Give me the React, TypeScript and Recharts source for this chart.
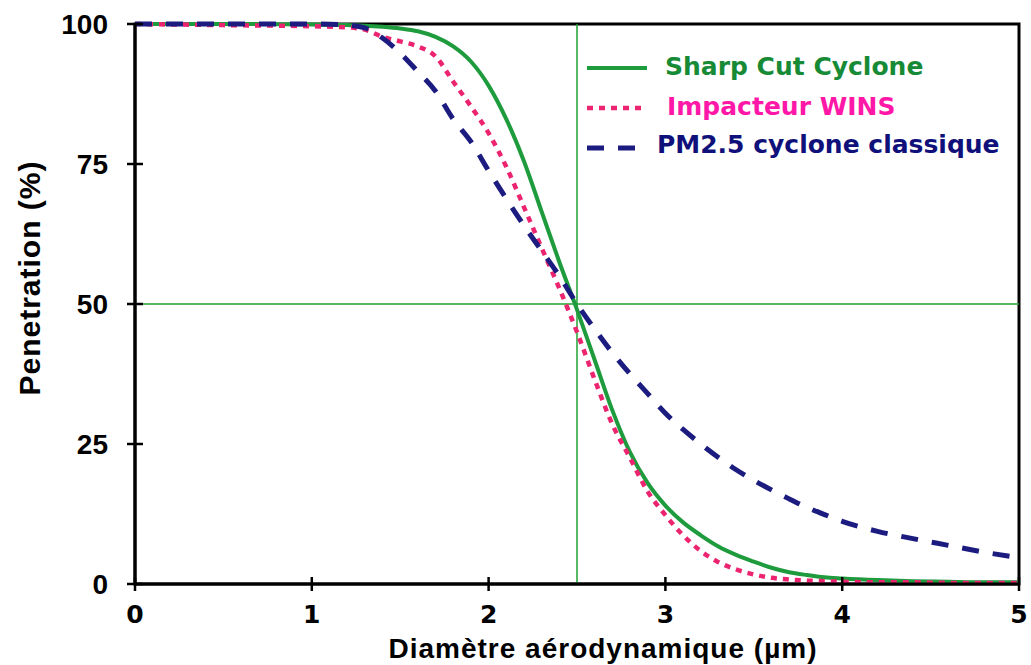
import React from 'react';
import { LineChart, Line, XAxis, YAxis, ReferenceLine, ReferenceArea, Legend, Label } from 'recharts';

const DIAMETERS = [0, 0.5, 1.0, 1.2, 1.3, 1.4, 1.5, 1.6, 1.7, 1.8, 1.9, 2.0, 2.1, 2.2, 2.3, 2.4, 2.5, 2.6, 2.7, 2.8, 2.9, 3.0, 3.1, 3.2, 3.3, 3.4, 3.5, 3.6, 3.7, 3.8, 3.9, 4.0, 4.2, 4.4, 4.6, 4.8, 5.0];
const SHARP_CUT = [100, 100, 99.9, 99.8, 99.7, 99.5, 99.2, 98.7, 97.7, 96, 93.3, 89, 83, 75.5, 66.5, 57.5, 49, 40, 31, 23.5, 18, 14, 11, 8.7, 6.7, 5.2, 4.0, 2.9, 2.1, 1.6, 1.2, 1.0, 0.7, 0.5, 0.4, 0.3, 0.3];
const WINS = [100, 99.8, 99.6, 99.4, 99, 97.7, 96.9, 96, 94.2, 89.7, 85.3, 80.5, 74.5, 67.3, 60, 52.8, 45, 36.5, 28.5, 22.5, 16.5, 12.3, 8.7, 5.9, 3.9, 2.6, 1.7, 1.1, 0.8, 0.6, 0.5, 0.4, 0.3, 0.3, 0.2, 0.2, 0.2];
const PM25 = [100, 100, 100, 99.8, 99.3, 97.5, 94.8, 91.5, 88, 83, 79, 73.8, 68.8, 64, 59.5, 55, 50, 45.5, 41.3, 37.5, 34, 30.5, 27.6, 25.0, 22.6, 20.4, 18.5, 16.8, 15.2, 13.7, 12.4, 11.2, 9.4, 8.1, 6.9, 5.7, 4.7];

const X_TICKS = [0, 1, 2, 3, 4, 5];
const Y_TICKS = [0, 25, 50, 75, 100];
const CUT_DIAMETER = 2.5;
const CUT_PENETRATION = 50;

const SERIES_NAMES = ['Sharp Cut Cyclone', 'Impacteur WINS', 'PM2.5 cyclone classique'];

const rows = DIAMETERS.map((d, i) => ({ d, sharp: SHARP_CUT[i], wins: WINS[i], pm25: PM25[i] }));

const SERIES = [
  { key: 'sharp', name: SERIES_NAMES[0], color: '#1e9b3c', text: '#178a36', width: 4, dash: undefined as string | undefined, ly: 28, ty: 35, tx: 85 },
  { key: 'wins', name: SERIES_NAMES[1], color: '#ec2470', text: '#ff18a8', width: 4.5, dash: '6 6', ly: 68, ty: 75, tx: 87 },
  { key: 'pm25', name: SERIES_NAMES[2], color: '#1c1c80', text: '#10107a', width: 5, dash: '17 14', ly: 108, ty: 113, tx: 77 },
];

const ARIAL = '"Liberation Sans", Arial, sans-serif';
const DEJAVU = '"DejaVu Sans", Verdana, sans-serif';

const XTick = (props: any) => {
  const { x, y, payload } = props;
  return (
    <g>
      <line x1={x} x2={x} y1={y - 7} y2={y + 7} stroke="#000" strokeWidth={2.5} />
      <text x={x} y={y + 39} textAnchor="middle" fontFamily={DEJAVU} fontWeight="bold" fontSize={25} fill="#000">
        {payload.value}
      </text>
    </g>
  );
};

const YTick = (props: any) => {
  const { x, y, payload } = props;
  return (
    <g>
      <line x1={x - 8} x2={x + 8} y1={y} y2={y} stroke="#000" strokeWidth={2.5} />
      <text x={x - 27} y={y + 10} textAnchor="end" fontFamily={ARIAL} fontWeight="bold" fontSize={28} fill="#000">
        {payload.value}
      </text>
    </g>
  );
};

const LegendContent = () => (
  <svg width={440} height={130} style={{ display: 'block' }}>
    {SERIES.map((s) => (
      <g key={s.key}>
        <line x1={7} x2={67} y1={s.ly} y2={s.ly} stroke={s.color} strokeWidth={s.width} strokeDasharray={s.dash} />
        <text x={s.tx} y={s.ty} fontFamily={DEJAVU} fontWeight="bold" fontSize={25} fill={s.text}>
          {s.name}
        </text>
      </g>
    ))}
  </svg>
);

export default function App() {
  return (
    <div style={{ position: 'absolute', left: 0, top: 0, background: '#fff' }}>
      <LineChart width={1031} height={665} data={rows} margin={{ top: 24, right: 12, bottom: 0, left: 0 }}>
        <XAxis
          dataKey="d"
          type="number"
          domain={[0, 5]}
          ticks={X_TICKS}
          height={81}
          axisLine={{ stroke: '#000', strokeWidth: 3 }}
          tickLine={false}
          tickSize={0}
          tickMargin={0}
          tick={(p: any) => <XTick {...p} />}
          interval={0}
        >
          <Label
            content={(p: any) => {
              const vb = p.viewBox || { x: 135, y: 584, width: 884, height: 81 };
              return (
                <text x={vb.x + vb.width / 2 + 26} y={vb.y + vb.height - 7} textAnchor="middle" fontFamily={ARIAL} fontWeight="bold" fontSize={28} letterSpacing={1} fill="#000">
                  Diamètre aérodynamique (µm)
                </text>
              );
            }}
          />
        </XAxis>
        <YAxis
          type="number"
          domain={[0, 100]}
          ticks={Y_TICKS}
          width={135}
          axisLine={{ stroke: '#000', strokeWidth: 3 }}
          tickLine={false}
          tickSize={0}
          tickMargin={0}
          tick={(p: any) => <YTick {...p} />}
          interval={0}
        >
          <Label
            content={(p: any) => {
              const vb = p.viewBox || { x: 0, y: 24, width: 135, height: 560 };
              const cx = vb.x + 40;
              const cy = vb.y + vb.height / 2 - 26;
              return (
                <text x={cx} y={cy} transform={`rotate(-90, ${cx}, ${cy})`} textAnchor="middle" fontFamily={ARIAL} fontWeight="bold" fontSize={30} letterSpacing={1} fill="#000">
                  Penetration (%)
                </text>
              );
            }}
          />
        </YAxis>
        <ReferenceArea x1={0} x2={5} y1={0} y2={100} fill="none" stroke="#000" strokeWidth={3} />
        <ReferenceLine x={CUT_DIAMETER} stroke="#22a030" strokeWidth={1.5} />
        <ReferenceLine y={CUT_PENETRATION} stroke="#22a030" strokeWidth={1.5} />
        {SERIES.map((s) => (
          <Line
            key={s.key}
            dataKey={s.key}
            name={s.name}
            type="monotone"
            stroke={s.color}
            strokeWidth={s.width}
            strokeDasharray={s.dash}
            dot={false}
            activeDot={false}
            isAnimationActive={false}
          />
        ))}
        <Legend
          layout="horizontal"
          verticalAlign="middle"
          align="center"
          content={() => <LegendContent />}
          wrapperStyle={{ left: 580, top: 40, width: 440, height: 130 }}
        />
      </LineChart>
    </div>
  );
}
